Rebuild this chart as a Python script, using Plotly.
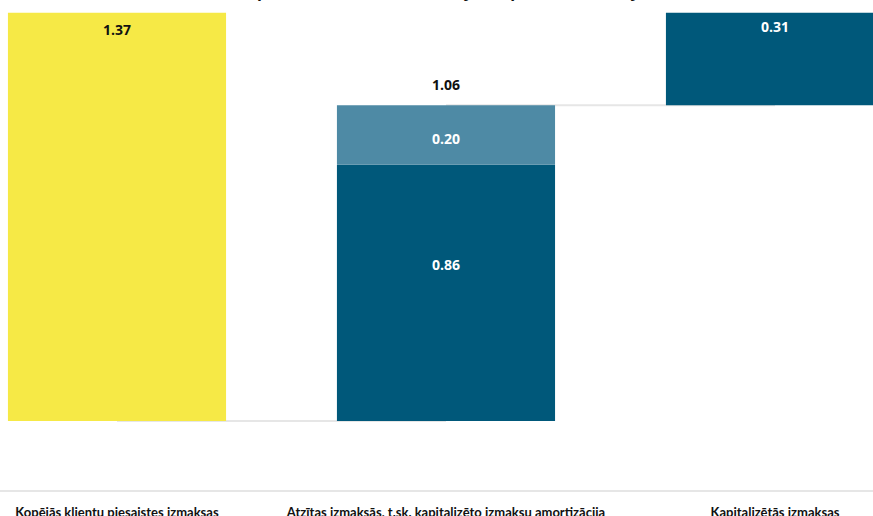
import plotly.graph_objects as go

# ---- data ----
categories = [
    "Kopējās klientu piesaistes izmaksas",
    "Atzītas izmaksās, t.sk. kapitalizēto izmaksu amortizācija",
    "Kapitalizētās izmaksas",
]
total_costs = [1.37]                 # Kopējās klientu piesaistes izmaksas
recognized_main = [0.86]             # Atzītas izmaksās (bez amortizācijas)
recognized_amortization = [0.20]     # kapitalizēto izmaksu amortizācija
capitalized = [0.31]                 # Kapitalizētās izmaksas
title_text = "Klientu piesaistes izmaksas sadalījumā pa veidiem, milj. EUR"

recognized_total = round(recognized_main[0] + recognized_amortization[0], 2)

YELLOW = "#F6E946"
DARK = "#00587A"
LIGHT = "#4E8AA5"
VAL_FONT = dict(family="Open Sans", size=14, weight="bold")

fig = go.Figure()
fig.add_trace(go.Bar(x=[categories[0]], y=total_costs, base=[0],
                     marker=dict(color=YELLOW, line=dict(width=0)), hoverinfo="skip"))
fig.add_trace(go.Bar(x=[categories[1]], y=recognized_main, base=[0],
                     marker=dict(color=DARK, line=dict(width=0)), hoverinfo="skip"))
fig.add_trace(go.Bar(x=[categories[1]], y=recognized_amortization, base=recognized_main,
                     marker=dict(color=LIGHT, line=dict(width=0)), hoverinfo="skip"))
fig.add_trace(go.Bar(x=[categories[2]], y=capitalized, base=[recognized_total],
                     marker=dict(color=DARK, line=dict(width=0)), hoverinfo="skip"))

# connectors
fig.add_shape(type="line", layer="below", xref="x", yref="y",
              x0=categories[0], x1=categories[1], y0=0, y1=0,
              line=dict(color="#E6E6E6", width=2))
fig.add_shape(type="line", layer="below", xref="x", yref="y",
              x0=categories[1], x1=categories[2], y0=recognized_total, y1=recognized_total,
              line=dict(color="#E6E6E6", width=2))

# value labels
fig.add_annotation(x=categories[0], y=total_costs[0], text=f"{total_costs[0]:.2f}",
                   yanchor="top", yshift=-5, showarrow=False,
                   font=dict(**VAL_FONT, color="#111111"))
fig.add_annotation(x=categories[2], y=recognized_total + capitalized[0], text=f"{capitalized[0]:.2f}",
                   yanchor="top", yshift=-2, showarrow=False,
                   font=dict(**VAL_FONT, color="#FFFFFF"))
fig.add_annotation(x=categories[1], y=recognized_total, text=f"{recognized_total:.2f}",
                   yanchor="bottom", yshift=9, showarrow=False,
                   font=dict(**VAL_FONT, color="#111111"))
fig.add_annotation(x=categories[1], y=recognized_main[0] + recognized_amortization[0] / 2,
                   text=f"{recognized_amortization[0]:.2f}", yshift=-4, showarrow=False,
                   font=dict(**VAL_FONT, color="#FFFFFF"))
fig.add_annotation(x=categories[1], y=recognized_main[0] / 2,
                   text=f"{recognized_main[0]:.2f}", yshift=28, showarrow=False,
                   font=dict(**VAL_FONT, color="#FFFFFF"))

# title (mostly above the visible area, as in the reference)
fig.add_annotation(xref="paper", yref="paper", x=0.5, y=1, yanchor="bottom", yshift=-4,
                   text=title_text, showarrow=False,
                   font=dict(family="Open Sans", size=16, weight="bold", color="#111111"))

fig.update_layout(
    width=873, height=516,
    margin=dict(l=0, r=0, t=0, b=26, autoexpand=False),
    paper_bgcolor="white", plot_bgcolor="white",
    barmode="overlay", bargap=0.337,
    showlegend=False,
    xaxis=dict(range=[-0.3556, 2.2979], showline=True, linecolor="#E6E6E6", linewidth=1.5,
               ticks="outside", ticklen=10, tickcolor="rgba(0,0,0,0)", automargin=False,
               tickfont=dict(family="Lato", size=13, weight="bold", color="#111111"),
               showgrid=False, zeroline=False, fixedrange=True),
    yaxis=dict(range=[-0.2315, 1.4128], visible=False, showgrid=False, zeroline=False,
               fixedrange=True, automargin=False),
)

fig.write_html("out.html", config={"displayModeBar": False},
               post_script="document.body.style.margin='0';document.body.style.overflow='hidden';")
